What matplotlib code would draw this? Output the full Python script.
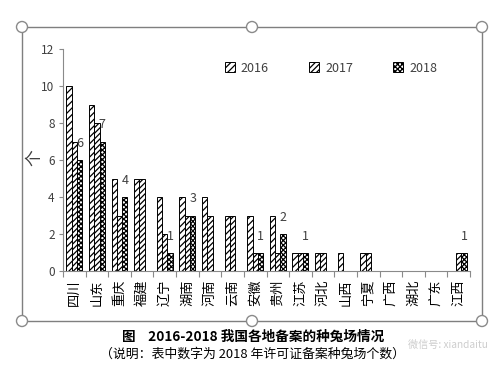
import matplotlib
matplotlib.use('Agg')
import matplotlib.pyplot as plt
import numpy as np
from matplotlib.patches import Rectangle, Circle

plt.rcParams['font.family'] = ['Noto Sans CJK SC', 'DejaVu Sans']
plt.rcParams['hatch.linewidth'] = 0.9

# data
provinces = ['四川', '山东', '重庆', '福建', '辽宁', '湖南', '河南', '云南', '安徽',
             '贵州', '江苏', '河北', '山西', '宁夏', '广西', '湖北', '广东', '江西']
v2016 = [10, 9, 5, 5, 4, 4, 4, 3, 3, 3, 1, 1, 1, 1, 0, 0, 0, 0]
v2017 = [7, 8, 3, 5, 2, 3, 3, 3, 1, 1, 1, 1, 0, 1, 0, 0, 0, 1]
v2018 = [6, 7, 4, 0, 1, 3, 0, 0, 1, 2, 1, 0, 0, 0, 0, 0, 0, 1]
years = ['2016', '2017', '2018']

W, H = 494, 372
fig = plt.figure(figsize=(W / 100, H / 100), dpi=100)

# overlay in pixel coords: chart frame with selection handles
ov = fig.add_axes([0, 0, 1, 1])
ov.set_xlim(0, W)
ov.set_ylim(H, 0)
ov.axis('off')
ov.add_patch(Rectangle((22, 27), 460, 294, fill=False, edgecolor='#7f7f7f', lw=1.0))
for cx, cy in [(22, 27), (252, 27), (482, 27), (22, 321), (252, 321), (482, 321)]:
    ov.add_patch(Circle((cx, cy), 5.5, facecolor='white', edgecolor='#8a8a8a', lw=1.0, zorder=3))

ov.text(253, 337, '图    2016-2018 我国各地备案的种兔场情况', ha='center', va='center',
        fontsize=9.8, fontweight='bold', color='black')
ov.text(252, 354, '（说明：表中数字为 2018 年许可证备案种兔场个数）', ha='center', va='center',
        fontsize=9.3, color='black')
ov.text(408, 345, '微信号: xiandaitu', ha='left', va='center', fontsize=7.3,
        color='#c8c8c8', alpha=0.9)

# main chart
ax = fig.add_axes([63 / W, 1 - 271 / H, (470 - 63) / W, (271 - 49) / H])
ax.set_facecolor('none')

x = np.arange(len(provinces))
w = 0.235
hatches = ['/////', '//////', 'xxxxxxx']
series = [v2016, v2017, v2018]
for i, (vals, hch) in enumerate(zip(series, hatches)):
    ax.bar(x + (i - 1) * w, vals, w, facecolor='white', edgecolor='black',
           hatch=hch, linewidth=0.7, label=years[i])

for xi, v in zip(x, v2018):
    if v > 0:
        ax.annotate(str(v), (xi + w, v), xytext=(0, 10), textcoords='offset pixels',
                    ha='center', va='bottom', fontsize=9, color='#404040')

ax.set_xlim(-0.5, len(provinces) - 0.5)
ax.set_ylim(0, 12)
ax.set_yticks(range(0, 13, 2))
ax.set_xticks(x)
ax.set_xticklabels(provinces, rotation=90, fontsize=9.5, color='black')
ax.set_xticks(np.arange(-0.5, len(provinces), 1), minor=True)
ax.tick_params(axis='x', which='major', length=0, pad=6)
ax.tick_params(axis='x', which='minor', length=4, color='#8a8a8a', width=0.8)
ax.tick_params(axis='y', length=3, color='#8a8a8a', width=0.8, labelsize=8.5,
               labelcolor='#404040', pad=3)
for s in ['top', 'right']:
    ax.spines[s].set_visible(False)
for s in ['left', 'bottom']:
    ax.spines[s].set_color('#8a8a8a')
    ax.spines[s].set_linewidth(0.8)

ax.set_ylabel('个', rotation=90, fontsize=12, color='#404040')
ax.yaxis.set_label_coords(-0.048, 0.51)

leg = ax.legend(loc='center', bbox_to_anchor=(331 / W, 1 - 68 / H),
                bbox_transform=fig.transFigure, ncol=3, frameon=False,
                fontsize=9, handlelength=0.8, handleheight=0.8,
                columnspacing=3.2, handletextpad=0.5)
for t in leg.get_texts():
    t.set_color('#404040')

fig.savefig('out.png', dpi=100)
